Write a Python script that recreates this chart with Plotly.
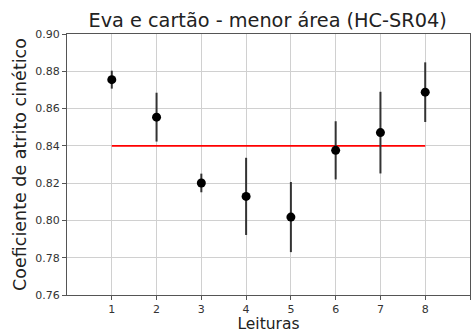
import plotly.graph_objects as go

# Leituras do coeficiente de atrito cinético (Eva e cartão, menor área)
leituras = [1, 2, 3, 4, 5, 6, 7, 8]
coeficientes = [0.8755, 0.8554, 0.8201, 0.8129, 0.8018, 0.8376, 0.8471, 0.8688]
incertezas = [0.0048, 0.0131, 0.0050, 0.0207, 0.0188, 0.0156, 0.0219, 0.0160]
media = 0.84
media_x = [1, 8]

x_ticks = [1, 2, 3, 4, 5, 6, 7, 8, 9]
y_ticks = [0.76, 0.78, 0.80, 0.82, 0.84, 0.86, 0.88, 0.90]

fig = go.Figure()

fig.add_trace(go.Scatter(
    x=media_x, y=[media, media], mode="lines",
    line=dict(color="#ff0000", width=1.8), showlegend=False,
))

fig.add_trace(go.Scatter(
    x=leituras, y=coeficientes, mode="markers",
    marker=dict(color="black", size=9),
    error_y=dict(type="data", array=incertezas, visible=True,
                 color="#333333", thickness=2, width=0),
    showlegend=False,
))

font_family = "DejaVu Sans"
axis_common = dict(
    showline=True, linecolor="#555555", linewidth=1, mirror=True,
    ticks="outside", ticklen=4, tickcolor="#555555",
    showgrid=True, gridcolor="#d0d0d0", gridwidth=1,
    zeroline=False, tickfont=dict(family=font_family, size=11, color="#333333"),
)

fig.update_layout(
    width=472, height=333,
    margin=dict(l=67, r=2, t=34, b=38, autoexpand=False),
    paper_bgcolor="white", plot_bgcolor="white",
    title=dict(text="Eva e cartão - menor área (HC-SR04)",
               x=0.567, xanchor="center", y=0.94, yanchor="middle",
               font=dict(family=font_family, size=19.3, color="#222222")),
    xaxis=dict(range=[0, 9], tickvals=x_ticks,
               title=dict(text="Leituras", standoff=7,
                          font=dict(family=font_family, size=15.5, color="#222222")),
               **axis_common),
    yaxis=dict(range=[0.76, 0.90], tickvals=y_ticks, tickformat=".2f",
               title=dict(text="Coeficiente de atrito cinético", standoff=4,
                          font=dict(family=font_family, size=17.5, color="#222222")),
               **axis_common),
)

fig.write_html("out.html")
